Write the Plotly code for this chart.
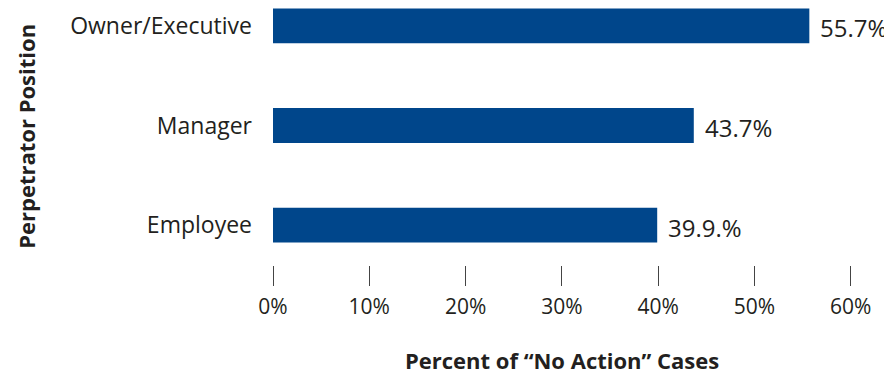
import plotly.graph_objects as go

# perpetrator positions, bottom to top
positions = ["Employee", "Manager", "Owner/Executive"]
no_action_pct = [39.9, 43.7, 55.7]
value_labels = ["39.9.%", "43.7%", "55.7%"]
tick_vals = [0, 10, 20, 30, 40, 50, 60]
tick_text = ["0%", "10%", "20%", "30%", "40%", "50%", "60%"]

font_name = "Open Sans"
text_col = "#231f20"

fig = go.Figure()
fig.add_trace(go.Bar(
    x=no_action_pct, y=positions, orientation="h",
    width=0.35, marker=dict(color="#00468b", line=dict(width=0)),
    hoverinfo="skip",
))

# value labels just right of each bar
for v, p, lab in zip(no_action_pct, positions, value_labels):
    fig.add_annotation(x=v, y=p, text=lab, xanchor="left", xshift=9, yshift=-2,
                       showarrow=False, font=dict(size=24, color=text_col, family=font_name))

fig.add_annotation(x=30, xref="x", y=-0.370, yref="paper", yanchor="middle",
                   text="<b>Percent of “No Action” Cases</b>", showarrow=False,
                   font=dict(size=22, color=text_col, family=font_name))
fig.add_annotation(x=-0.415, xref="paper", xanchor="center", y=0.5, yref="paper", textangle=-90,
                   text="<b>Perpetrator Position</b>", showarrow=False,
                   font=dict(size=22, color=text_col, family=font_name))

# page body has an 8px margin, so the figure is a bit smaller than the window
fig.update_layout(
    width=884, height=367,
    margin=dict(l=265, r=22, t=0, b=110),
    paper_bgcolor="white", plot_bgcolor="white",
    showlegend=False,
    font=dict(family=font_name, color=text_col),
    xaxis=dict(range=[0, 62], tickvals=tick_vals, ticktext=tick_text,
               ticks="outside", ticklen=20, tickwidth=1.3, tickcolor="#444444",
               showgrid=False, zeroline=False, showline=False, automargin=False,
               tickfont=dict(size=21, color=text_col), ticklabelstandoff=3),
    yaxis=dict(range=[-0.40, 2.18], categoryorder="array", categoryarray=positions,
               showgrid=False, zeroline=False, showline=False, ticks="", automargin=False,
               tickfont=dict(size=23, color=text_col), ticklabelstandoff=20),
)

fig.write_html("out.html")
